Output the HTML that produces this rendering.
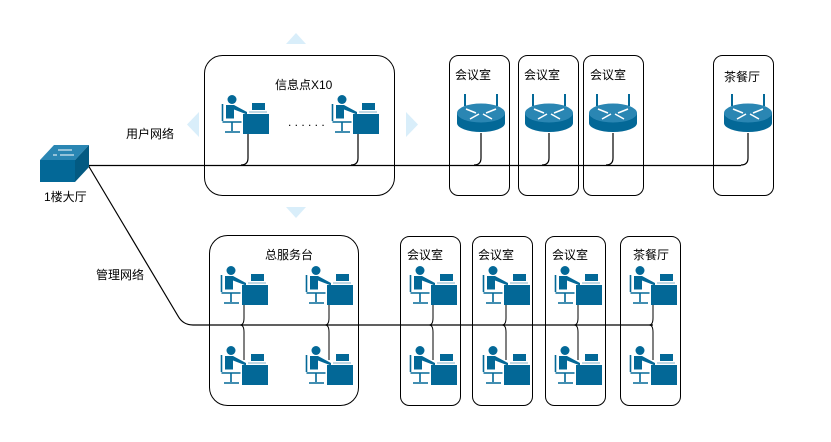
<!DOCTYPE html>
<html><head><meta charset="utf-8"><style>
html,body{margin:0;padding:0;background:#fff;}
svg{display:block;font-family:"Liberation Sans","Noto Sans CJK SC",sans-serif;}
text{font-size:12px;fill:#000;}
</style></head><body>
<svg width="831" height="442" viewBox="0 0 831 442" xmlns="http://www.w3.org/2000/svg">
<defs>
<g id="pc">
<circle cx="11" cy="4.5" r="4.5" fill="#036897"/>
<path d="M5,10 h8 l13,7 v2.5 l-13,-5 v9 h-8 z" fill="#036897"/>
<path d="M1.5,9 v17 M1.5,27 h19 M11,27 v9 M4,37 h15" stroke="#036897" stroke-width="1.6" fill="none"/>
<rect x="22" y="19" width="26" height="20" fill="#036897"/>
<rect x="31" y="8" width="13" height="7" fill="#036897"/>
<path d="M28,17 h18" stroke="#036897" stroke-width="1" opacity="0.5"/>
</g>
<g id="rt">
<path d="M8,0 v12 M40,0 v12" stroke="#036897" stroke-width="2"/>
<path d="M0,19 v10 a24,9 0 0 0 48,0 v-10 z" fill="#036897"/>
<ellipse cx="24" cy="19" rx="24" ry="9.5" fill="#2a86b3"/>
<path d="M9,15 l10,4 M39,15 l-10,4 M13,25 l9,-5 M35,25 l-9,-5" stroke="#fff" stroke-width="1.5"/>
</g>
</defs>
<g fill="#d9eefa">
<path d="M286,44 L296,33 L306,44 Z"/>
<path d="M286,207 L296,218 L306,207 Z"/>
<path d="M406,112 L418,124.5 L406,137 Z"/>
<path d="M199,112 L187,124.5 L199,137 Z"/>
</g>
<g fill="none" stroke="#000" stroke-width="1">
<rect x="204.5" y="55.5" width="190" height="140" rx="18"/>
<rect x="449.5" y="55.5" width="60" height="140" rx="9"/>
<rect x="518.5" y="55.5" width="60" height="140" rx="9"/>
<rect x="583.5" y="55.5" width="60" height="140" rx="9"/>
<rect x="713.5" y="55.5" width="60" height="140" rx="9"/>
<rect x="209.5" y="235.5" width="149" height="170" rx="18"/>
<rect x="400.5" y="236.5" width="60" height="169" rx="9"/>
<rect x="472.5" y="236.5" width="60" height="169" rx="9"/>
<rect x="545.5" y="236.5" width="60" height="169" rx="9"/>
<rect x="620.5" y="236.5" width="60" height="169" rx="9"/>
</g>
<g fill="none" stroke="#000" stroke-width="1.2">
<path d="M88,165.5 H741"/>
<path d="M88,165 L178,316 Q183,325 193,325 H653"/>
<path d="M248,133 V158 Q248,165 241,165"/>
<path d="M358,133 V158 Q358,165 351,165"/>
<path d="M481,133 V158 Q481,165 474,165"/>
<path d="M549,133 V158 Q549,165 542,165"/>
<path d="M613,133 V158 Q613,165 606,165"/>
<path d="M748,133 V158 Q748,165 741,165"/>
</g>
<g fill="none" stroke="#000" stroke-width="1">
<path d="M244,304 V318 q0,7 -4,7 q4,0 4,7 V360"/>
<path d="M329,304 V318 q0,7 -4,7 q4,0 4,7 V360"/>
<path d="M433,304 V318 q0,7 -4,7 q4,0 4,7 V360"/>
<path d="M506,304 V318 q0,7 -4,7 q4,0 4,7 V360"/>
<path d="M578,304 V318 q0,7 -4,7 q4,0 4,7 V360"/>
<path d="M653,304 V318 q0,7 -4,7 q4,0 4,7 V360"/>
</g>
<path d="M40,160 L54,145 H89 L75,160 Z" fill="#2a86b3"/>
<rect x="40" y="160" width="35" height="22" fill="#036897"/>
<path d="M75,160 L89,145 V167 L75,182 Z" fill="#035a82"/>
<path d="M58,150 h14 M60,155 h14 M53,155 h4" stroke="#fff" stroke-width="1"/>
<use href="#pc" x="221" y="95"/>
<use href="#pc" x="331" y="95"/>
<text x="288" y="126" font-size="10" fill="#555">. . . . . .</text>
<use href="#rt" x="457" y="94"/>
<use href="#rt" x="525" y="94"/>
<use href="#rt" x="589" y="94"/>
<use href="#rt" x="724" y="94"/>
<use href="#pc" x="220" y="266"/>
<use href="#pc" x="305" y="266"/>
<use href="#pc" x="220" y="346"/>
<use href="#pc" x="305" y="346"/>
<use href="#pc" x="409" y="266"/>
<use href="#pc" x="409" y="346"/>
<use href="#pc" x="482" y="266"/>
<use href="#pc" x="482" y="346"/>
<use href="#pc" x="554" y="266"/>
<use href="#pc" x="554" y="346"/>
<use href="#pc" x="629" y="266"/>
<use href="#pc" x="629" y="346"/>
<text x="275" y="89">信息点X10</text>
<text x="455" y="79">会议室</text>
<text x="524" y="79">会议室</text>
<text x="590" y="79">会议室</text>
<text x="724" y="81">茶餐厅</text>
<text x="265" y="259">总服务台</text>
<text x="407" y="259">会议室</text>
<text x="478" y="259">会议室</text>
<text x="552" y="259">会议室</text>
<text x="633" y="259">茶餐厅</text>
<text x="126" y="138">用户网络</text>
<text x="96" y="279">管理网络</text>
<text x="44" y="201">1楼大厅</text>
</svg>
</body></html>
